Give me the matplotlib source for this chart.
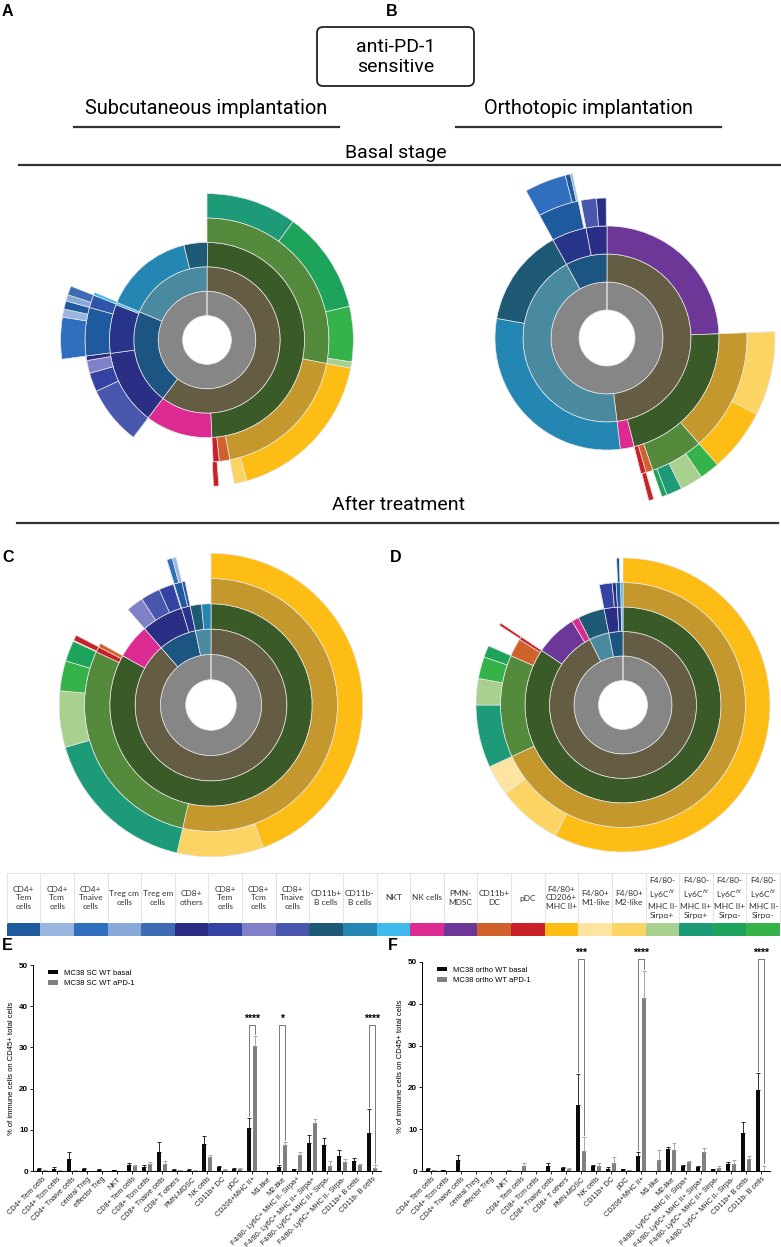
import numpy as np
import matplotlib
matplotlib.use('Agg')
import matplotlib.pyplot as plt
from matplotlib.patches import FancyBboxPatch

plt.rcParams['font.family'] = ['Liberation Sans', 'DejaVu Sans']

W, H = 781, 1247

# ---------------- legend categories ----------------
legend_keys = ['CD4_Tem', 'CD4_Tcm', 'CD4_Tnaive', 'Treg_cm', 'Treg_em', 'CD8_others',
               'CD8_Tem', 'CD8_Tcm', 'CD8_Tnaive', 'B_CD11b+', 'B_CD11b-', 'NKT', 'NK',
               'PMN_MDSC', 'DC', 'pDC', 'CD206', 'M1', 'M2',
               'IIneg_Sp', 'IIpos_Sp', 'IIpos_Sn', 'IIneg_Sn']
legend_labels = ['CD4+\nTem\ncells', 'CD4+\nTcm\ncells', 'CD4+\nTnaive\ncells', 'Treg cm\ncells',
                 'Treg em\ncells', 'CD8+\nothers', 'CD8+\nTem\ncells', 'CD8+\nTcm\ncells',
                 'CD8+\nTnaive\ncells', 'CD11b+\nB cells', 'CD11b-\nB cells', 'NKT', 'NK cells',
                 'PMN-\nMDSC', 'CD11b+\nDC', 'pDC', 'F4/80+\nCD206+\nMHC II+', 'F4/80+\nM1-like',
                 'F4/80+\nM2-like',
                 'F4/80-\nLy6C$^{hi}$\nMHC II-\nSirpα+', 'F4/80-\nLy6C$^{hi}$\nMHC II+\nSirpα+',
                 'F4/80-\nLy6C$^{hi}$\nMHC II+\nSirpα-', 'F4/80-\nLy6C$^{hi}$\nMHC II-\nSirpα-']
legend_colors = ['#1f5a9e', '#9ab5e0', '#2f6fbe', '#8aa9db', '#3d6cb5', '#2a2d83',
                 '#3443a3', '#7f80c8', '#4856ad', '#1e5a75', '#2486b3', '#40b9ec', '#dc2a92',
                 '#6c3796', '#d0612b', '#c92029', '#fdbd15', '#fde4a0', '#fcd463',
                 '#a8d08e', '#1d9b78', '#1ea45a', '#35b24a']

# parent levels of the sunbursts
group_colors = {'CD45': '#868686', 'innate': '#655d43', 'T': '#1d5582', 'B': '#4a8aa1',
                'myeloid': '#3a5a27', 'F480neg': '#548a3c', 'F480pos': '#c4982c',
                'CD4': '#28338a', 'CD8': '#2a2f85', 'CD4conv': '#1e5a9e', 'Treg': '#2f55aa'}
colors = dict(zip(legend_keys, legend_colors))
colors.update(group_colors)

# ---------------- sunburst data (share of circle, %) per ring ----------------
sc_basal = [
    [('CD45', 100)],
    [('innate', 60.3), ('T', 21.0), ('B', 18.7)],
    [('myeloid', 49.2), ('NK', 11.1), ('CD8', 12.5), ('CD4', 8.1), ('NKT', 0.4),
     ('B_CD11b-', 14.9), ('B_CD11b+', 3.9)],
    [('F480neg', 28.1), ('F480pos', 18.9), ('DC', 1.4), ('pDC', 0.8), (None, 11.1),
     ('CD8_Tnaive', 7.8), ('CD8_Tem', 2.5), ('CD8_Tcm', 1.7), ('CD8_others', 0.6),
     ('CD4conv', 6.4), ('Treg', 1.7), ('NKT', 0.4)],
    [('IIpos_Sp', 10.0), ('IIpos_Sn', 11.3), ('IIneg_Sn', 6.1), ('IIneg_Sp', 0.7),
     ('CD206', 17.5), ('M2', 1.4), (None, 1.7), ('pDC', 0.6), (None, 23.6),
     ('CD4_Tnaive', 4.6), ('CD4_Tcm', 0.9), ('CD4_Tem', 0.9), ('Treg_cm', 0.7), ('Treg_em', 1.0)],
]
ortho_basal = [
    [('CD45', 100)],
    [('innate', 48.1), ('B', 43.9), ('T', 8.0)],
    [('PMN_MDSC', 24.4), ('myeloid', 21.7), ('NK', 2.0), ('B_CD11b-', 29.7), ('B_CD11b+', 14.2),
     ('CD4', 5.0), ('CD8', 3.0)],
    [(None, 24.4), ('F480pos', 14.2), ('F480neg', 6.1), ('DC', 0.8), ('pDC', 0.6), (None, 45.9),
     ('CD4conv', 4.7), (None, 0.3), ('CD8_Tnaive', 1.8), ('CD8_others', 1.1)],
    [(None, 24.4), ('M2', 8.1), ('CD206', 6.1), ('IIneg_Sn', 1.9), ('IIneg_Sp', 2.2),
     ('IIpos_Sp', 1.5), ('IIpos_Sn', 0.5), (None, 0.8), ('pDC', 0.5), (None, 46.0),
     ('CD4_Tnaive', 4.0), ('CD4_Tem', 0.5), ('CD4_Tcm', 0.2)],
]
sc_pd1 = [
    [('CD45', 100)],
    [('innate', 88.6), ('T', 8.1), ('B', 3.3)],
    [('myeloid', 83.1), ('NK', 5.5), ('CD8', 6.7), ('CD4', 1.4), ('B_CD11b+', 1.8), ('B_CD11b-', 1.5)],
    [('F480pos', 53.6), ('F480neg', 28.3), ('pDC', 0.7), ('DC', 0.5), (None, 5.5),
     ('CD8_Tcm', 2.2), ('CD8_Tnaive', 2.5), ('CD8_Tem', 1.9), ('CD8_others', 0.1),
     ('CD4conv', 1.0), ('Treg', 0.4)],
    [('CD206', 44.4), ('M2', 9.2), ('IIpos_Sp', 16.9), ('IIneg_Sp', 6.0), ('IIneg_Sn', 3.2),
     ('IIpos_Sn', 2.2), (None, 0.1), ('pDC', 0.6), (None, 12.7), ('CD4_Tnaive', 0.6), ('CD4_Tcm', 0.4)],
]
ortho_pd1 = [
    [('CD45', 100)],
    [('innate', 92.5), ('B', 4.4), ('T', 3.1)],
    [('myeloid', 84.4), ('PMN_MDSC', 6.9), ('NK', 1.2), ('B_CD11b+', 4.4), ('CD8', 2.2),
     ('CD4', 0.6), ('NKT', 0.3)],
    [('F480pos', 68.1), ('F480neg', 13.5), ('DC', 2.4), ('pDC', 0.4), (None, 12.5),
     ('CD8_Tem', 1.7), ('CD8_others', 0.5), ('CD4conv', 0.6), ('NKT', 0.3)],
    [('CD206', 57.6), ('M2', 7.1), ('M1', 3.4), ('IIpos_Sp', 6.9), ('IIneg_Sp', 2.9),
     ('IIneg_Sn', 2.4), ('IIpos_Sn', 1.3), (None, 2.5), ('pDC', 0.3), (None, 14.9), ('CD4_Tem', 0.3)],
]

# ---------------- bar chart data ----------------
bar_labels = ['CD4+ Tem cells', 'CD4+ Tcm cells', 'CD4+ Tnaive cells', 'central Treg',
              'effector Treg', 'NKT', 'CD8+ Tem cells', 'CD8+ Tcm cells', 'CD8+ Tnaive cells',
              'CD8+ T others', 'PMN-MDSC', 'NK cells', 'CD11b+ DC', 'pDC', 'CD206+MHC II+',
              'M1-like', 'M2-like', 'F4/80- Ly6C+ MHC II- Sirpa+', 'F4/80- Ly6C+ MHC II+ Sirpa+',
              'F4/80- Ly6C+ MHC II+ Sirpa-', 'F4/80- Ly6C+ MHC II- Sirpa-', 'CD11b+ B cells',
              'CD11b- B cells']

e_basal = [0.5, 0.5, 2.8, 0.5, 0.35, 0.15, 1.5, 1.0, 4.5, 0.35, 0.3, 6.5, 1.0, 0.55, 10.4,
           0.05, 1.0, 0.5, 6.7, 6.3, 3.7, 2.5, 9.3]
e_basal_sd = [0.3, 0.5, 1.9, 0.2, 0.1, 0.05, 0.5, 0.4, 2.6, 0.1, 0.1, 2.0, 0.3, 0.15, 2.4,
              0.0, 0.4, 0.1, 2.0, 1.6, 1.4, 0.6, 5.7]
e_pd1 = [0.25, 0.1, 0.1, 0.05, 0.03, 0.02, 1.2, 1.8, 1.7, 0.2, 0.1, 3.3, 0.3, 0.6, 30.3,
         0.02, 6.4, 4.0, 11.6, 1.3, 2.1, 1.5, 0.8]
e_pd1_sd = [0.1, 0.05, 0.05, 0.0, 0.0, 0.0, 0.2, 0.3, 0.8, 0.05, 0.05, 0.6, 0.1, 0.1, 2.5,
            0.0, 0.7, 0.7, 1.0, 1.1, 0.7, 0.3, 0.7]
e_sig_idx = [14, 16, 22]
e_sig_txt = ['****', '*', '****']

f_basal = [0.45, 0.25, 2.6, 0.05, 0.05, 0.05, 0.1, 0.05, 1.2, 0.8, 15.8, 1.3, 0.55, 0.45, 3.7,
           0.0, 5.2, 1.2, 1.0, 0.4, 1.6, 9.2, 19.3]
f_basal_sd = [0.15, 0.05, 1.2, 0.0, 0.0, 0.0, 0.0, 0.0, 0.6, 0.15, 7.4, 0.2, 0.3, 0.1, 0.8,
              0.0, 0.6, 0.3, 0.3, 0.15, 0.6, 2.5, 4.1]
f_pd1 = [0.2, 0.1, 0.02, 0.02, 0.02, 0.15, 1.2, 0.02, 0.1, 0.55, 4.8, 1.1, 2.0, 0.25, 41.4,
         2.6, 5.0, 2.1, 4.6, 0.65, 1.7, 2.9, 0.1]
f_pd1_sd = [0.05, 0.0, 0.0, 0.0, 0.0, 0.05, 0.6, 0.0, 0.0, 0.1, 3.4, 0.7, 1.3, 0.05, 6.5,
            2.4, 1.6, 0.4, 1.0, 0.55, 0.9, 0.7, 1.2]
f_sig_idx = [10, 14, 22]
f_sig_txt = ['***', '****', '****']


fig = plt.figure(figsize=(W / 100, H / 100), dpi=100)


def px_axes(x0, y0, x1, y1, **kw):
    return fig.add_axes([x0 / W, 1 - y1 / H, (x1 - x0) / W, (y1 - y0) / H], **kw)


# overlay in pixel coordinates for titles, lines, legend table
ax0 = px_axes(0, 0, W, H)
ax0.set_xlim(0, W)
ax0.set_ylim(H, 0)
ax0.axis('off')

roboto = ['Roboto', 'DejaVu Sans']
for letter, x, y in [('A', 2, 12), ('B', 386, 12), ('C', 2, 557), ('D', 390, 557),
                     ('E', 2, 945), ('F', 388, 945)]:
    ax0.text(x, y, letter, fontsize=11.5, fontweight='bold', va='center', ha='left')

ax0.add_patch(FancyBboxPatch((317, 27), 157, 59, boxstyle='round,pad=0,rounding_size=6',
                             fc='white', ec='#222222', lw=1.3))
ax0.text(395.5, 57, 'anti-PD-1\nsensitive', family=roboto, fontsize=14, ha='center',
         va='center', linespacing=1.15)
ax0.text(206, 108, 'Subcutaneous implantation', family=roboto, fontsize=14.3, ha='center', va='center')
ax0.text(588, 108, 'Orthotopic implantation', family=roboto, fontsize=14.3, ha='center', va='center')
ax0.plot([74, 339], [127, 127], color='#333333', lw=1.6)
ax0.plot([456, 721], [127, 127], color='#333333', lw=1.6)
ax0.text(396, 153, 'Basal stage', family=roboto, fontsize=14, ha='center', va='center')
ax0.plot([19, 780], [165, 165], color='#333333', lw=1.6)
ax0.text(398, 505, 'After treatment', family=roboto, fontsize=14, ha='center', va='center')
ax0.plot([17, 778], [523, 523], color='#333333', lw=1.6)

# legend table
n = len(legend_keys)
cw = (780 - 6.7) / n
xc = 6.7 + cw * (np.arange(n) + 0.5)
ax0.bar(xc, 13, bottom=923, width=cw, color=legend_colors, linewidth=0)
ax0.vlines(6.7 + cw * np.arange(n + 1), 873, 923, color='#e4e4e4', lw=0.8)
ax0.hlines(873, 6.7, 780, color='#e4e4e4', lw=0.8)
for x, lab in zip(xc, legend_labels):
    ax0.text(x, 898, lab, family=['Lato', 'DejaVu Sans'], fontsize=6, ha='center', va='center',
             linespacing=1.3, color='#333333')


def sunburst(rings, cx, cy, unit):
    R = 7 * unit
    ax = px_axes(cx - R, cy - R, cx + R, cy + R, projection='polar')
    ax.set_theta_zero_location('N')
    ax.set_theta_direction(-1)
    ax.set_ylim(0, 7)
    ax.axis('off')
    for level, ring in enumerate(rings, start=1):
        start = 0.0
        for key, share in ring:
            width = share / 100 * 2 * np.pi
            if key is not None:
                ax.bar(start + width / 2, 1, width=width, bottom=level, color=colors[key],
                       edgecolor='#e6e6e6', linewidth=0.5)
            start += width


sunburst(sc_basal, 207, 340, 24.4)
sunburst(ortho_basal, 607, 338, 28)
sunburst(sc_pd1, 211, 705, 25.3)
sunburst(ortho_pd1, 623, 705, 24.5)


def bar_panel(x_left, y_top, basal, basal_sd, pd1, pd1_sd, sig_idx, sig_txt, sig_y, names):
    x = np.arange(len(bar_labels))
    ax = px_axes(x_left, y_top, x_left + 15 * (len(x) + 0.2), 1171)
    w = 0.3
    ax.bar(x - 0.195, basal, w, color='#0a0a0a', yerr=[np.zeros(len(x)), basal_sd],
           error_kw=dict(ecolor='#0a0a0a', elinewidth=0.6, capsize=1.3, capthick=0.6),
           label=names[0])
    ax.bar(x + 0.195, pd1, w, color='#808080', yerr=[np.zeros(len(x)), pd1_sd],
           error_kw=dict(ecolor='#9a9a9a', elinewidth=0.6, capsize=1.3, capthick=0.6),
           label=names[1])
    ax.set_xlim(-0.6, len(x) - 0.4)
    ax.set_ylim(0, 50)
    ax.set_yticks([0, 10, 20, 30, 40, 50])
    ax.set_xticks(x)
    ax.set_xticklabels(bar_labels, rotation=45, ha='right', rotation_mode='anchor', fontsize=5.2,
                       color='#222222')
    for t in ax.get_yticklabels():
        t.set_fontsize(5.8)
        t.set_fontweight('bold')
    ax.tick_params(axis='both', length=2, width=0.6, pad=1.5)
    for s in ['top', 'right']:
        ax.spines[s].set_visible(False)
    for s in ['left', 'bottom']:
        ax.spines[s].set_linewidth(0.7)
    ax.set_ylabel('% of immune cells on CD45+ total cells', fontsize=5.5, labelpad=3)
    ax.legend(loc='upper left', bbox_to_anchor=(0.03, 1.0), frameon=False, fontsize=5.5,
              handlelength=1.3, handleheight=0.55, labelspacing=0.45, borderaxespad=0.2)
    for i, txt in zip(sig_idx, sig_txt):
        xl, xr = i - 0.195, i + 0.195
        ax.plot([xl, xl, xr, xr], [basal[i] + basal_sd[i] + 0.5, sig_y, sig_y,
                                   pd1[i] + pd1_sd[i] + 0.5],
                color='#444444', lw=0.5, clip_on=False)
        ax.text(i, sig_y + 0.2, txt, fontsize=7.5, fontweight='bold', ha='center', va='bottom')
    return ax


bar_panel(33, 965, e_basal, e_basal_sd, e_pd1, e_pd1_sd, e_sig_idx, e_sig_txt, 35.4,
          ['MC38 SC WT basal', 'MC38 SC WT aPD-1'])
bar_panel(422, 962, f_basal, f_basal_sd, f_pd1, f_pd1_sd, f_sig_idx, f_sig_txt, 50.7,
          ['MC38 ortho WT basal', 'MC38 ortho WT aPD-1'])

fig.savefig('out.png', dpi=100)
